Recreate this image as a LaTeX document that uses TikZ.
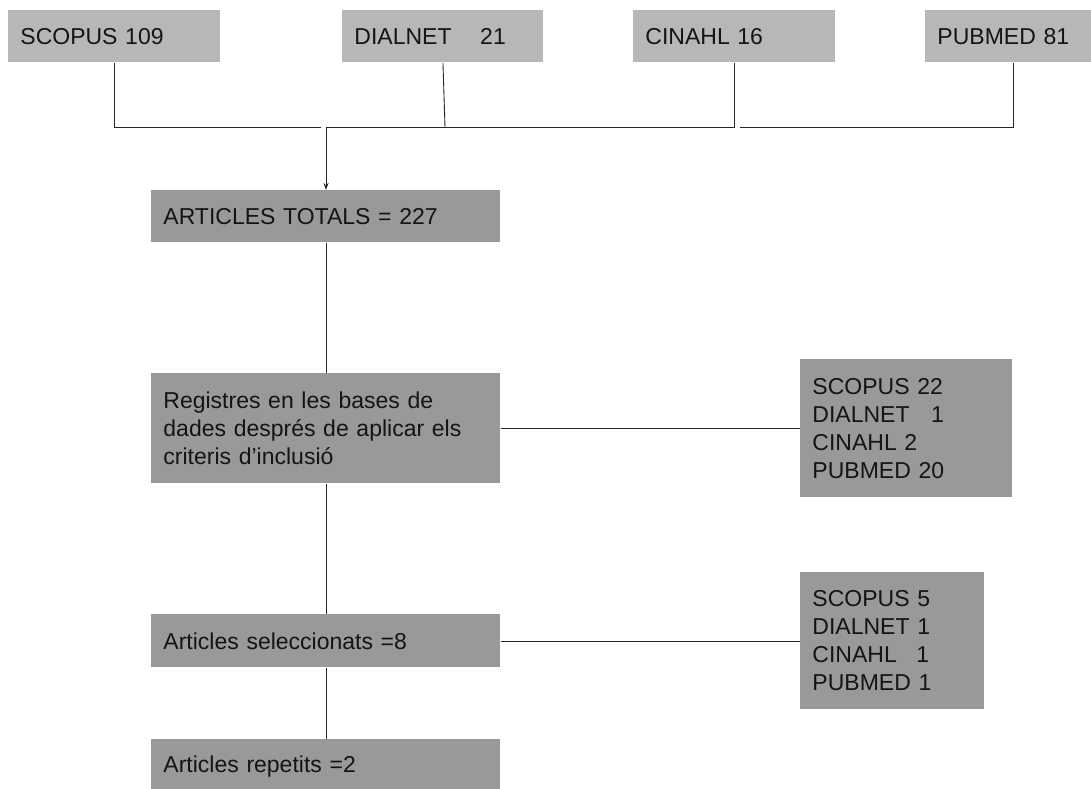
\documentclass[tikz,border=0pt]{standalone}
\usepackage{fontspec}
\setmainfont{Liberation Sans}
\usetikzlibrary{arrows.meta}
\definecolor{srcgray}{HTML}{B7B7B7}
\definecolor{boxgray}{HTML}{999999}

\begin{document}
\begin{tikzpicture}[x=1pt,y=-1pt,>={Stealth[length=7pt,width=5pt]},line width=0.9pt,draw=black!85,
    box/.style={rectangle,anchor=north west,inner xsep=12pt,inner ysep=0pt,align=left,
      text=black!92,font=\fontsize{23}{28}\selectfont},
    src node/.style={box,fill=srcgray,minimum height=52pt},
    main node/.style={box,fill=boxgray,text width=325pt},
    res node/.style={box,fill=boxgray}
    ]
    \useasboundingbox (0,0) rectangle (1091,788);

    % databases
    \node[src node,text width=188pt](scopus) at (8,10){SCOPUS 109};
    \node[src node,text width=177pt](dialnet) at (342,10){DIALNET\hspace{21pt} 21};
    \node[src node,text width=178pt](cinahl) at (633,10){CINAHL 16};
    \node[src node,text width=152pt](pubmed) at (925,10){PUBMED 81};

    % main column
    \node[main node,minimum height=52pt](totals) at (151,190){ARTICLES TOTALS = 227};
    \node[main node,minimum height=110pt](registres) at (151,373){Registres en les bases de\\dades després de aplicar els\\criteris d’inclusió};
    \node[main node,minimum height=53pt](selec) at (151,614){Articles seleccionats =8};
    \node[main node,minimum height=54pt](repetits) at (151,739){Articles repetits =2};

    % results per database
    \node[res node,text width=188pt,minimum height=138pt](res1) at (800,359){SCOPUS 22\\DIALNET\hspace{14pt} 1\\CINAHL 2\\PUBMED 20};
    \node[res node,text width=160pt,minimum height=137pt](res2) at (800,572){SCOPUS 5\\DIALNET 1\\CINAHL\hspace{12pt} 1\\PUBMED 1};

    \coordinate (lj) at (321,127);
    \coordinate (mj) at (326,127);
    \coordinate (dj) at (445,127);
    \coordinate (pj) at (740,127);

    \draw (scopus.south) |- (lj);
    \draw (dialnet.south) -- (dj);
    \draw (cinahl.south) |- (mj);
    \draw (pubmed.south) |- (pj);
    \draw[->] (mj) -- (mj |- totals.north);

    \draw (totals) -- (registres);
    \draw (registres) -- (selec);
    \draw (selec) -- (repetits);
    \draw (registres) -- (res1);
    \draw (selec) -- (res2);
  \end{tikzpicture}
\end{document}
